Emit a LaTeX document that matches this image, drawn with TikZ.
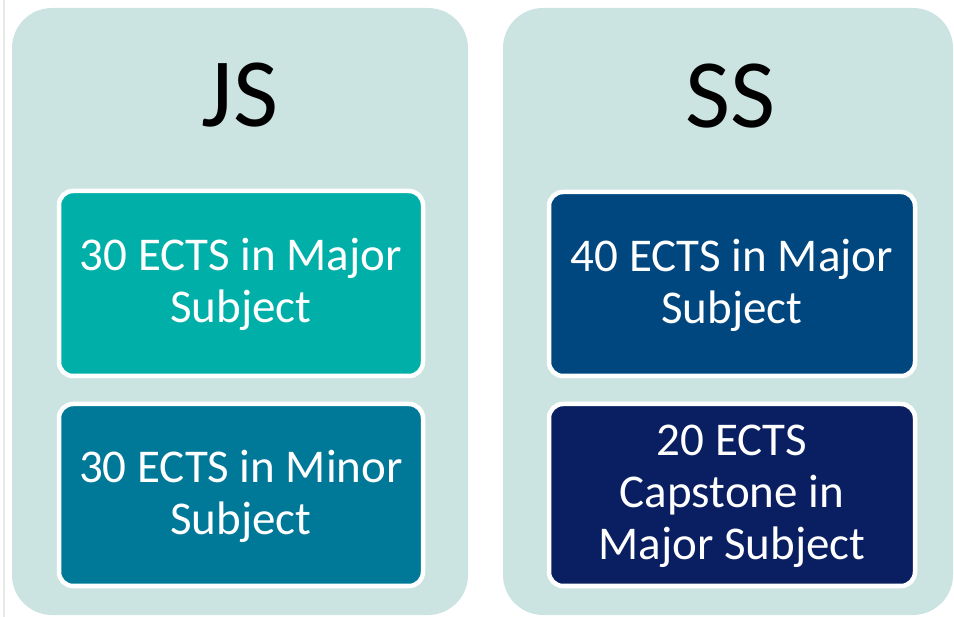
\documentclass[tikz,border=0pt]{standalone}
\usepackage{fontspec}
\setmainfont{Carlito}
\usetikzlibrary{positioning}

\definecolor{panelbg}{RGB}{204,228,225}
\definecolor{majorjs}{RGB}{0,176,168}
\definecolor{minorjs}{RGB}{0,121,153}
\definecolor{majorss}{RGB}{0,70,127}
\definecolor{capss}{RGB}{10,31,98}

\begin{document}
\begin{tikzpicture}[x=1pt, y=-1pt,
    % Node styles
    panel/.style={rectangle, fill=panelbg, rounded corners=40pt, inner sep=0pt,
                  minimum width=456pt, minimum height=607pt},
    title/.style={font=\fontsize{98}{110}\selectfont, text=black, inner sep=0pt},
    credit/.style={rectangle, draw=white, line width=4.5pt, rounded corners=14pt,
                   minimum width=364pt, text=white, align=center, inner sep=0pt,
                   text depth=6pt, font=\fontsize{47}{52}\selectfont}
]
\useasboundingbox (0,0) rectangle (954,617);

% thin rule at the left edge
\draw[line width=2pt, color=black!9] (4,0) -- (4,617);

% Left side: junior sophister
\node[panel] (jspanel) at (240,311.5) {};
\node[title] (jstitle) at (240,95) {JS};
\node[credit, fill=majorjs, minimum height=185pt] (jsmajor) at (241,283.5)
    {30 ECTS in Major\\Subject};
\node[credit, fill=minorjs, minimum height=182pt] (jsminor) at (241,495)
    {30 ECTS in Minor\\Subject};

% Right side: senior sophister
\node[panel, minimum width=450pt] (sspanel) at (728,311.5) {};
\node[title] (sstitle) at (731,96) {SS};
\node[credit, fill=majorss, minimum width=366pt, minimum height=184pt] (ssmajor) at (732,284)
    {40 ECTS in Major\\Subject};
\node[credit, fill=capss, minimum width=366pt, minimum height=182pt] (sscap) at (732,495)
    {20 ECTS\\Capstone in\\Major Subject};

\end{tikzpicture}
\end{document}
